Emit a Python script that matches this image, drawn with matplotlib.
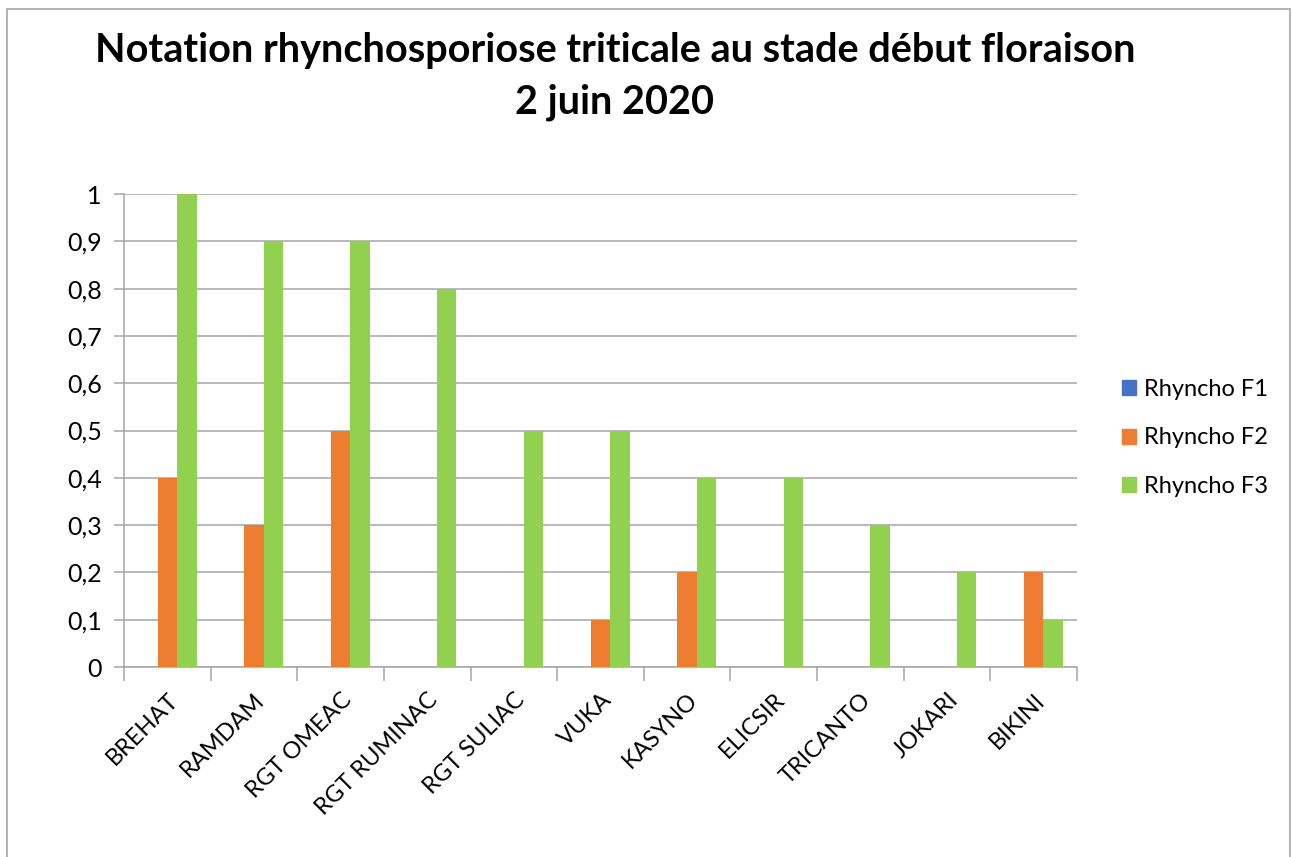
import numpy as np
import matplotlib.pyplot as plt
from matplotlib.patches import Patch, Rectangle
from matplotlib.ticker import FuncFormatter, FixedLocator

plt.rcParams['font.family'] = ['Lato', 'DejaVu Sans']

varietes = ['BREHAT', 'RAMDAM', 'RGT OMEAC', 'RGT RUMINAC', 'RGT SULIAC', 'VUKA',
            'KASYNO', 'ELICSIR', 'TRICANTO', 'JOKARI', 'BIKINI']
rhyncho_f1 = [0, 0, 0, 0, 0, 0, 0, 0, 0, 0, 0]
rhyncho_f2 = [0.4, 0.3, 0.5, 0, 0, 0.1, 0.2, 0, 0, 0, 0.2]
rhyncho_f3 = [1, 0.9, 0.9, 0.8, 0.5, 0.5, 0.4, 0.4, 0.3, 0.2, 0.1]
series = [('Rhyncho F1', rhyncho_f1, '#4472C4'),
          ('Rhyncho F2', rhyncho_f2, '#ED7D31'),
          ('Rhyncho F3', rhyncho_f3, '#92D050')]

fig = plt.figure(figsize=(12.92, 8.57), dpi=100)
# cadre gris autour du graphique
fig.patches.append(Rectangle((0.0055, -0.01), 0.993, 1.0, transform=fig.transFigure,
                             fill=False, edgecolor='#A6A6A6', linewidth=1.2))
ax = fig.add_axes([0.096, 0.2217, 0.7376, 0.5519])

x = np.arange(len(varietes))
w = 0.225
for i, (nom, vals, coul) in enumerate(series):
    ax.bar(x + (i - 1) * w, vals, width=w, color=coul, label=nom, zorder=3)

ax.set_xlim(-0.5, len(varietes) - 0.5)
ax.set_ylim(0, 1)
ax.set_yticks(np.arange(0, 1.01, 0.1))
ax.yaxis.set_major_formatter(FuncFormatter(lambda v, p: ('%g' % round(v, 1)).replace('.', ',')))
ax.grid(axis='y', color='#A6A6A6', linewidth=1.1, zorder=0)

ax.set_xticks(x)
ax.set_xticklabels(varietes, rotation=45, ha='right', rotation_mode='anchor', fontsize=17)
ax.tick_params(axis='x', which='major', length=0, pad=16)
ax.xaxis.set_minor_locator(FixedLocator(np.arange(-0.5, len(varietes), 1)))
ax.tick_params(axis='x', which='minor', length=10, color='#A6A6A6', width=1.1)
ax.tick_params(axis='y', length=7, color='#A6A6A6', width=1.1, labelsize=18, pad=9)

for s in ['top', 'right']:
    ax.spines[s].set_visible(False)
for s in ['left', 'bottom']:
    ax.spines[s].set_color('#A6A6A6')
    ax.spines[s].set_linewidth(1.1)

fig.text(0.476, 0.911, 'Notation rhynchosporiose triticale au stade début floraison\n2 juin 2020',
         ha='center', va='center', fontsize=28.5, fontweight='bold', linespacing=1.5)

handles = [Patch(color=c, label=n) for n, _, c in series]
fig.legend(handles=handles, loc='center left', bbox_to_anchor=(0.852, 0.489), frameon=False,
           fontsize=17, handlelength=0.6, handleheight=0.6, handletextpad=0.35, labelspacing=1.15)

fig.savefig('out.png', dpi=100)
